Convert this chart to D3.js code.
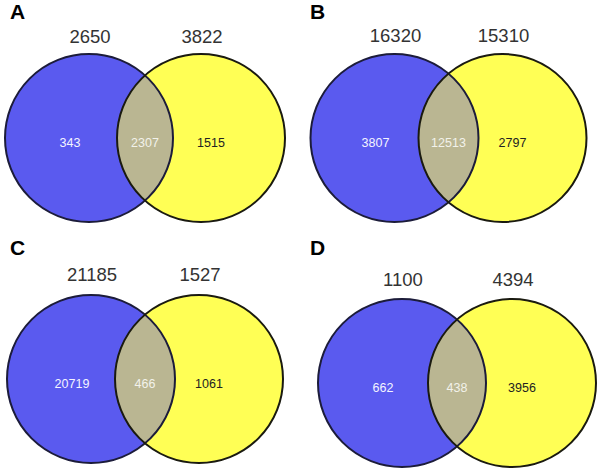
<!DOCTYPE html>
<html><head><meta charset="utf-8">
<script src="https://cdn.jsdelivr.net/npm/d3@7"></script>
<style>html,body{margin:0;padding:0;background:#fff}svg{display:block}</style>
</head><body>
<script>
const panels = ["A", "B", "C", "D"];
const leftTotals = [2650, 16320, 21185, 1100];
const rightTotals = [3822, 15310, 1527, 4394];
const leftOnly = [343, 3807, 20719, 662];
const both = [2307, 12513, 466, 438];
const rightOnly = [1515, 2797, 1061, 3956];

const W = 600, H = 472;
const svg = d3.select("body").append("svg").attr("width", W).attr("height", H);

// panel layout (origin and small offsets)
const layout = [
  {x: 0, y: 0, lcx: 89, rcx: 201, cy: 138, ly: 43},
  {x: 300, y: 0, lcx: 94.5, rcx: 202.5, cy: 138, ly: 42},
  {x: 0, y: 236, lcx: 91, rcx: 199, cy: 143, ly: 45},
  {x: 300, y: 236, lcx: 102, rcx: 212, cy: 147, ly: 50}
];
const r = 84;
const blue = "#5a5aef", yellow = "#ffff55", lens = "#bab692";

panels.forEach((p, i) => {
  const L = layout[i];
  const g = svg.append("g").attr("transform", `translate(${L.x},${L.y})`);
  const clipId = "clip" + i;
  g.append("clipPath").attr("id", clipId)
    .append("circle").attr("cx", L.lcx).attr("cy", L.cy).attr("r", r);
  g.append("circle").attr("cx", L.lcx).attr("cy", L.cy).attr("r", r).attr("fill", blue);
  g.append("circle").attr("cx", L.rcx).attr("cy", L.cy).attr("r", r).attr("fill", yellow);
  g.append("circle").attr("cx", L.rcx).attr("cy", L.cy).attr("r", r)
    .attr("fill", lens).attr("clip-path", `url(#${clipId})`);
  g.append("circle").attr("cx", L.lcx).attr("cy", L.cy).attr("r", r)
    .attr("fill", "none").attr("stroke", "#1c1c3a").attr("stroke-width", 2);
  g.append("circle").attr("cx", L.rcx).attr("cy", L.cy).attr("r", r)
    .attr("fill", "none").attr("stroke", "#1a1a10").attr("stroke-width", 2);

  g.append("text").attr("x", 10).attr("y", 19)
    .attr("font-family", "Liberation Sans, Arial, sans-serif").attr("font-weight", "bold")
    .attr("font-size", 21).attr("fill", "#000").text(p);

  const lab = (x, t) => g.append("text").attr("x", x).attr("y", L.ly)
    .attr("text-anchor", "middle").attr("font-family", "Liberation Sans, Arial, sans-serif")
    .attr("font-size", 18.5).attr("fill", "#333").text(t);
  lab(L.lcx + 1, leftTotals[i]);
  lab(L.rcx + 1, rightTotals[i]);

  const inner = (x, t, c) => g.append("text").attr("x", x).attr("y", L.cy + 8.5)
    .attr("text-anchor", "middle").attr("font-family", "Liberation Sans, Arial, sans-serif")
    .attr("font-size", 12.5).attr("fill", c).text(t);
  inner(L.lcx - 19, leftOnly[i], "#f4f4ff");
  inner((L.lcx + L.rcx) / 2, both[i], "#f2f2ea");
  inner(L.rcx + 10, rightOnly[i], "#222");
});
</script>
</body></html>
